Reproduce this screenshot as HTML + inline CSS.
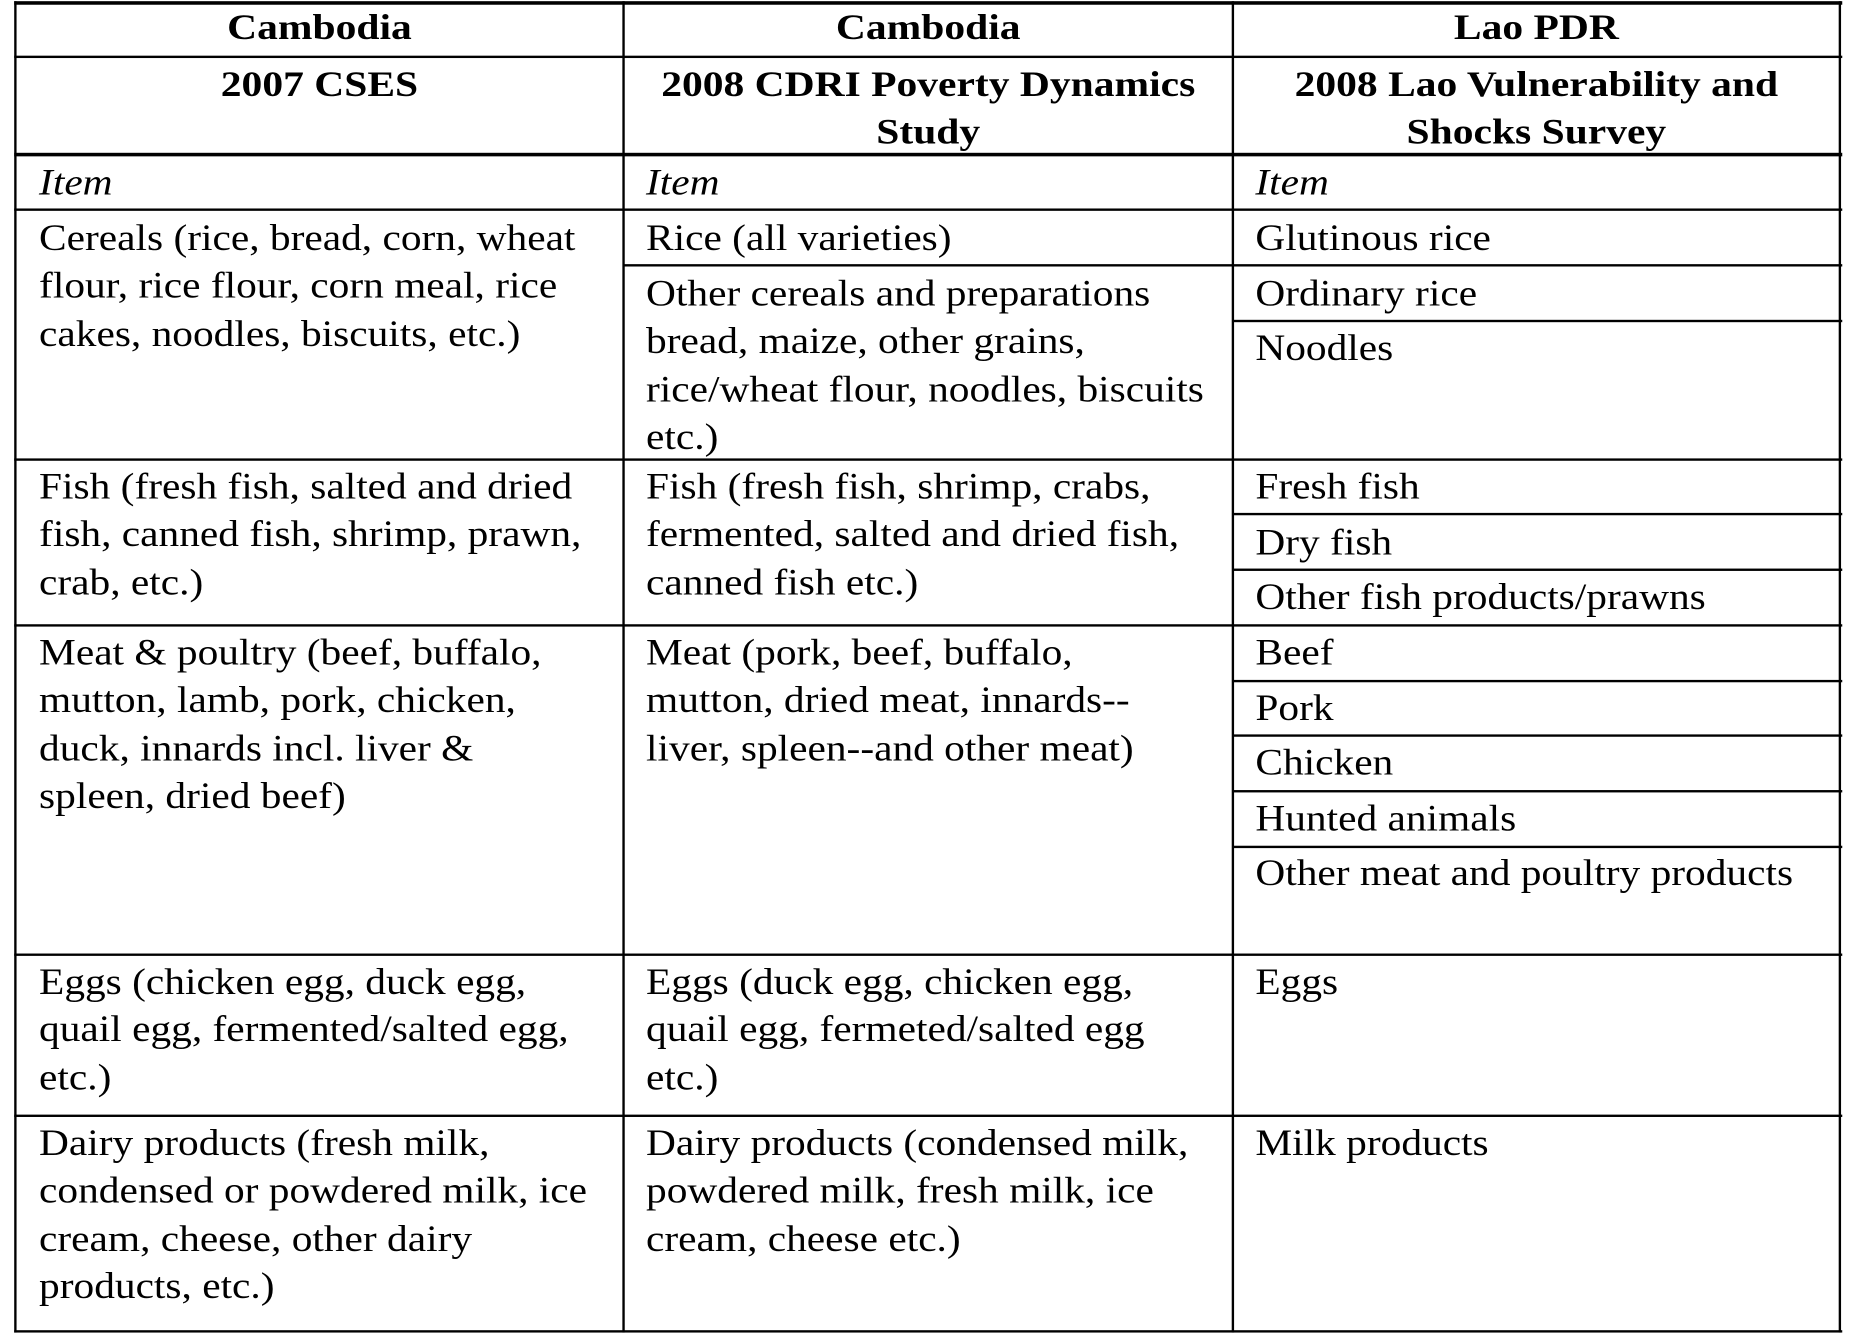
<!DOCTYPE html>
<html><head><meta charset="utf-8"><style>
html,body{margin:0;padding:0;background:#fff;width:1855px;height:1335px;overflow:hidden}
#w{position:absolute;left:0;top:0;width:1560px;height:1123px;transform:scale(1.1832,1.1845);transform-origin:0 0;font-family:"Liberation Serif",serif;color:#000}
.h{position:absolute;height:2px;background:#000}
.v{position:absolute;width:2px;background:#000}
.t{position:absolute;font-size:31.5px;line-height:40.3px;white-space:nowrap;transform:scaleX(1.11);transform-origin:0 0}
.b{font-weight:bold;text-align:center;font-size:30px;transform:scaleX(1.17);transform-origin:50% 0}
.i{font-style:italic}
</style></head><body><div id="w">
<div class="h" style="left:12px;width:1545px;top:1px;height:3px"></div>
<div class="h" style="left:12px;width:1545px;top:47px"></div>
<div class="h" style="left:12px;width:1545px;top:129px;height:3px"></div>
<div class="h" style="left:12px;width:1545px;top:176px"></div>
<div class="h" style="left:12px;width:1545px;top:387px"></div>
<div class="h" style="left:12px;width:1545px;top:527px"></div>
<div class="h" style="left:12px;width:1545px;top:805px"></div>
<div class="h" style="left:12px;width:1545px;top:941px"></div>
<div class="h" style="left:12px;width:1545px;top:1123px"></div>
<div class="h" style="left:527px;width:1030px;top:223px"></div>
<div class="h" style="left:1042px;width:515px;top:270px"></div>
<div class="h" style="left:1042px;width:515px;top:433px"></div>
<div class="h" style="left:1042px;width:515px;top:480px"></div>
<div class="h" style="left:1042px;width:515px;top:574px"></div>
<div class="h" style="left:1042px;width:515px;top:620px"></div>
<div class="h" style="left:1042px;width:515px;top:667px"></div>
<div class="h" style="left:1042px;width:515px;top:714px"></div>
<div class="v" style="left:12px;top:1px;height:1124px"></div>
<div class="v" style="left:526px;top:1px;height:1124px"></div>
<div class="v" style="left:1041px;top:1px;height:1124px"></div>
<div class="v" style="left:1554px;top:1px;height:1124px"></div>

<div class="t b" style="left:13px;width:514px;top:4px">Cambodia</div>
<div class="t b" style="left:527px;width:515px;top:4px">Cambodia</div>
<div class="t b" style="left:1042px;width:513px;top:4px">Lao PDR</div>
<div class="t b" style="left:13px;width:514px;top:52px">2007 CSES</div>
<div class="t b" style="left:527px;width:515px;top:52px">2008 CDRI Poverty Dynamics<br>Study</div>
<div class="t b" style="left:1042px;width:513px;top:52px">2008 Lao Vulnerability and<br>Shocks Survey</div>

<div class="t i" style="left:33px;top:134px">Item</div>
<div class="t i" style="left:546px;top:134px">Item</div>
<div class="t i" style="left:1061px;top:134px">Item</div>

<div class="t" style="left:33px;top:181px">Cereals (rice, bread, corn, wheat<br>flour, rice flour, corn meal, rice<br>cakes, noodles, biscuits, etc.)</div>
<div class="t" style="left:546px;top:181px">Rice (all varieties)</div>
<div class="t" style="left:546px;top:228px">Other cereals and preparations<br>bread, maize, other grains,<br>rice/wheat flour, noodles, biscuits<br>etc.)</div>
<div class="t" style="left:1061px;top:181px">Glutinous rice</div>
<div class="t" style="left:1061px;top:228px">Ordinary rice</div>
<div class="t" style="left:1061px;top:274px">Noodles</div>

<div class="t" style="left:33px;top:391px">Fish (fresh fish, salted and dried<br>fish, canned fish, shrimp, prawn,<br>crab, etc.)</div>
<div class="t" style="left:546px;top:391px">Fish (fresh fish, shrimp, crabs,<br>fermented, salted and dried fish,<br>canned fish etc.)</div>
<div class="t" style="left:1061px;top:391px">Fresh fish</div>
<div class="t" style="left:1061px;top:438px">Dry fish</div>
<div class="t" style="left:1061px;top:484px">Other fish products/prawns</div>

<div class="t" style="left:33px;top:531px">Meat &amp; poultry (beef, buffalo,<br>mutton, lamb, pork, chicken,<br>duck, innards incl. liver &amp;<br>spleen, dried beef)</div>
<div class="t" style="left:546px;top:531px">Meat (pork, beef, buffalo,<br>mutton, dried meat, innards--<br>liver, spleen--and other meat)</div>
<div class="t" style="left:1061px;top:531px">Beef</div>
<div class="t" style="left:1061px;top:578px">Pork</div>
<div class="t" style="left:1061px;top:624px">Chicken</div>
<div class="t" style="left:1061px;top:671px">Hunted animals</div>
<div class="t" style="left:1061px;top:717px">Other meat and poultry products</div>

<div class="t" style="left:33px;top:809px">Eggs (chicken egg, duck egg,<br>quail egg, fermented/salted egg,<br>etc.)</div>
<div class="t" style="left:546px;top:809px">Eggs (duck egg, chicken egg,<br>quail egg, fermeted/salted egg<br>etc.)</div>
<div class="t" style="left:1061px;top:809px">Eggs</div>

<div class="t" style="left:33px;top:945px">Dairy products (fresh milk,<br>condensed or powdered milk, ice<br>cream, cheese, other dairy<br>products, etc.)</div>
<div class="t" style="left:546px;top:945px">Dairy products (condensed milk,<br>powdered milk, fresh milk, ice<br>cream, cheese etc.)</div>
<div class="t" style="left:1061px;top:945px">Milk products</div>
</div></body></html>
